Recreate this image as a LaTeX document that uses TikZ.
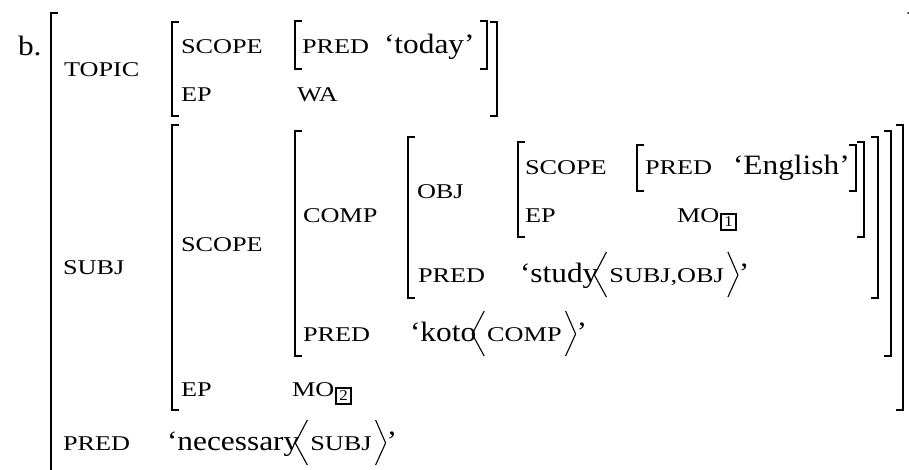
\documentclass[tikz,border=0pt]{standalone}
\usepackage{fontspec}
\newfontfamily\avmtext{Liberation Serif}[FakeStretch=1.12]
\newfontfamily\avmfeat{Liberation Serif}[FakeStretch=1.25]
\tikzset{
  txt/.style={anchor=base west, inner sep=0pt, outer sep=0pt, font=\avmtext\fontsize{28}{30}\selectfont},
  fs/.style={anchor=base west, inner sep=0pt, outer sep=0pt, font=\avmfeat\fontsize{21}{23}\selectfont},
  brk/.style={line width=2pt},
  ang/.style={line width=1.1pt},
  tag/.style={draw, line width=1.4pt, inner sep=0pt, minimum width=15pt, minimum height=16pt,
    font=\avmtext\fontsize{15}{15}\selectfont, anchor=west}
}
\newcommand\lbrk[3]{\draw[brk] (#1+7,#2) -- (#1,#2) -- (#1,#3) -- (#1+7,#3);}
\newcommand\rbrk[3]{\draw[brk] (#1-7,#2) -- (#1,#2) -- (#1,#3) -- (#1-7,#3);}
\newcommand\argval[5]{%
  \node[txt] (#1w) at (#2,#3) {#4};
  \coordinate (#1a) at ([xshift=-4pt]#1w.base east);
  \node[fs] (#1x) at ([xshift=15pt]#1a) {#5};
  \coordinate (#1b) at ([xshift=14pt]#1x.base east);
  \node[txt] (#1q) at ([xshift=1pt]#1b) {’};
  \draw[ang] ([shift={(12,-30)}]#1a) -- ([shift={(0,-7)}]#1a) -- ([shift={(12,15)}]#1a);
  \draw[ang] ([shift={(-10,-30)}]#1b) -- ([shift={(0,-7)}]#1b) -- ([shift={(-10,15)}]#1b);
}
\begin{document}
\begin{tikzpicture}[x=1pt,y=-1pt]
\useasboundingbox (0,0) rectangle (909,469);
\clip (0,0) rectangle (909,469);
% label
\node[txt] (lbl) at (18,55) {b.};
% outermost matrix
\draw[brk] (58,13) -- (51,13) -- (51,480);
\fill (908,13) circle (1);
% TOPIC
\node[fs] (topic) at (64,76) {TOPIC};
\lbrk{172}{22}{116}
\rbrk{497}{22}{116}
\node[fs] (tscope) at (181,53) {SCOPE};
\lbrk{295}{21}{69}
\node[fs] (tpred) at (302,53) {PRED};
\node[txt] (today) at (384,53) {‘today’};
\rbrk{487}{21}{69}
\node[fs] (tep) at (181,101) {EP};
\node[fs] (wa) at (297,101) {WA};
% SUBJ
\node[fs] (subj) at (63,274) {SUBJ};
\lbrk{172}{125}{410}
\rbrk{903}{125}{410}
\node[fs] (sscope) at (181,251) {SCOPE};
% COMP matrix
\lbrk{295}{131}{356}
\rbrk{891}{131}{356}
\node[fs] (comp) at (303,222) {COMP};
% OBJ matrix
\lbrk{408}{137}{298}
\rbrk{878}{137}{298}
\node[fs] (obj) at (417,198) {OBJ};
% OBJ value
\lbrk{518}{142}{237}
\rbrk{864}{142}{237}
\node[fs] (oscope) at (525,174) {SCOPE};
\lbrk{637}{145}{191}
\node[fs] (opred) at (645,174) {PRED};
\node[txt] (english) at (733,174) {‘English’};
\rbrk{856}{145}{191}
\node[fs] (oep) at (525,222) {EP};
\node[fs] (mo1) at (677,222) {MO};
\node[tag] (tag1) at ([xshift=1pt]mo1.base east) {1};
% study
\node[fs] (spred) at (418,282) {PRED};
\argval{st}{520}{282}{‘study}{SUBJ,OBJ}
% koto
\node[fs] (kpred) at (303,341) {PRED};
\argval{ko}{410}{341}{‘koto}{COMP}
% EP MO2
\node[fs] (sep) at (181,396) {EP};
\node[fs] (mo2) at (292,396) {MO};
\node[tag] (tag2) at ([xshift=1pt]mo2.base east) {2};
% PRED necessary
\node[fs] (npred) at (63,450) {PRED};
\argval{ne}{167}{450}{‘necessary}{SUBJ}
\end{tikzpicture}
\end{document}
